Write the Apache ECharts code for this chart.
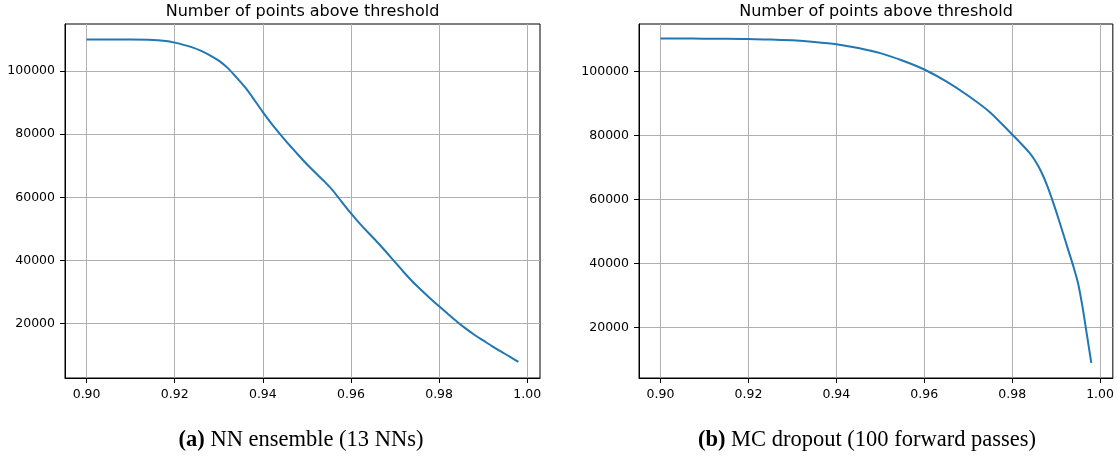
<!DOCTYPE html>
<html>
<head>
<meta charset="utf-8">
<script src="https://cdn.jsdelivr.net/npm/echarts@6/dist/echarts.min.js"></script>
<style>
  html, body { margin: 0; padding: 0; background: #fff; }
  #chart { width: 1117px; height: 456px; }
</style>
</head>
<body>
<div id="chart"></div>
<script>
// (a) NN ensemble: threshold vs number of points above it
var xLeft = [0.900, 0.905, 0.910, 0.914, 0.918, 0.920, 0.922, 0.924, 0.926, 0.928,
             0.930, 0.932, 0.934, 0.936, 0.938, 0.940, 0.942, 0.944, 0.946, 0.948,
             0.950, 0.952, 0.954, 0.956, 0.958, 0.960, 0.962, 0.964, 0.966, 0.968,
             0.970, 0.972, 0.974, 0.976, 0.978, 0.980, 0.982, 0.984, 0.986, 0.988,
             0.990, 0.992, 0.994, 0.996, 0.998];
var yLeft = [110000, 110000, 110000, 109900, 109500, 109000, 108300, 107500, 106400, 105000,
             103300, 101000, 98000, 94800, 91000, 87000, 83300, 79900, 76600, 73500,
             70500, 67700, 65000, 62000, 58400, 54900, 51700, 48700, 45800, 42700,
             39500, 36300, 33300, 30600, 28000, 25500, 23100, 20700, 18500, 16500,
             14700, 12900, 11200, 9600, 7900];

// (b) MC dropout
var xRight = [0.900, 0.905, 0.910, 0.915, 0.920, 0.925, 0.930, 0.935, 0.940, 0.945,
              0.950, 0.955, 0.960, 0.965, 0.970, 0.975, 0.980, 0.982, 0.984, 0.985,
              0.986, 0.987, 0.988, 0.989, 0.990, 0.991, 0.992, 0.993, 0.994, 0.995,
              0.996, 0.997, 0.998];
var yRight = [110300, 110300, 110200, 110200, 110100, 110000, 109700, 109200, 108500, 107300,
              105700, 103400, 100600, 96900, 92400, 87200, 80300, 77500, 74500, 72600,
              70300, 67500, 64200, 60400, 56300, 52000, 47600, 43200, 38800, 33800,
              26500, 17800, 9000];

var xTicks = [0.90, 0.92, 0.94, 0.96, 0.98, 1.00];
var yTicks = [20000, 40000, 60000, 80000, 100000];

var plotTitle = 'Number of points above threshold';
var captionLeft = 'NN ensemble (13 NNs)';
var captionRight = 'MC dropout (100 forward passes)';

function pairs(xs, ys) {
    var out = [];
    for (var i = 0; i < xs.length; i++) {
        out.push([xs[i], ys[i]]);
    }
    return out;
}

var tickFont = {fontFamily: 'DejaVu Sans', fontSize: 12.5, color: '#000'};

function makeX(gridIndex) {
    return {
        type: 'value',
        gridIndex: gridIndex,
        min: 0.8951,
        max: 1.0029,
        axisLine: {show: true, onZero: false, lineStyle: {color: '#000', width: 1}},
        axisTick: {show: true, inside: false, length: 5, customValues: xTicks,
                   lineStyle: {color: '#000', width: 1}},
        axisLabel: Object.assign({customValues: xTicks, margin: 10,
                                  formatter: function (v) { return v.toFixed(2); }}, tickFont),
        splitLine: {show: true, lineStyle: {color: '#b0b0b0', width: 1}}
    };
}

function makeY(gridIndex, min, max) {
    return {
        type: 'value',
        gridIndex: gridIndex,
        min: min,
        max: max,
        axisLine: {show: true, onZero: false, lineStyle: {color: '#000', width: 1}},
        axisTick: {show: true, inside: false, length: 5, customValues: yTicks,
                   lineStyle: {color: '#000', width: 1}},
        axisLabel: Object.assign({customValues: yTicks, margin: 10,
                                  formatter: function (v) { return String(v); }}, tickFont),
        splitLine: {show: true, lineStyle: {color: '#b0b0b0', width: 1}}
    };
}

function makeSeries(idx, xs, ys) {
    return {
        type: 'line',
        xAxisIndex: idx,
        yAxisIndex: idx,
        data: pairs(xs, ys),
        showSymbol: false,
        symbol: 'none',
        smooth: 0.25,
        lineStyle: {color: '#1f77b4', width: 2},
        z: 3
    };
}

var captionStyle = {
    fontFamily: 'Liberation Serif',
    fontSize: 22.5,
    fontWeight: 'normal',
    color: '#000',
    rich: {
        b: {fontFamily: 'Liberation Serif', fontSize: 22.5, fontWeight: 'bold', color: '#000'},
        n: {fontFamily: 'Liberation Serif', fontSize: 22.5, fontWeight: 'normal', color: '#000'}
    }
};

function titleText(cx) {
    return {
        text: plotTitle, left: cx, top: 4, textAlign: 'center', padding: 0,
        textStyle: {fontFamily: 'DejaVu Sans', fontSize: 16, fontWeight: 'normal', color: '#000'}
    };
}

function captionText(cx, tag, text) {
    return {
        text: '{b|' + tag + '} {n|' + text + '}', left: cx, top: 429, textAlign: 'center', padding: 0,
        textStyle: captionStyle
    };
}

var chart = echarts.init(document.getElementById('chart'));
chart.setOption({
    animation: false,
    backgroundColor: '#fff',
    title: [
        titleText(302.5),
        titleText(876),
        captionText(301, '(a)', captionLeft),
        captionText(867, '(b)', captionRight)
    ],
    grid: [
        {left: 65, top: 24, width: 475, height: 354, show: true, borderColor: '#000',
         borderWidth: 1, backgroundColor: 'transparent'},
        {left: 639, top: 24, width: 474, height: 354, show: true, borderColor: '#000',
         borderWidth: 1, backgroundColor: 'transparent'}
    ],
    xAxis: [makeX(0), makeX(1)],
    yAxis: [makeY(0, 2800, 114900), makeY(1, 4300, 114800)],
    series: [
        makeSeries(0, xLeft, yLeft),
        makeSeries(1, xRight, yRight)
    ]
});
</script>
</body>
</html>
